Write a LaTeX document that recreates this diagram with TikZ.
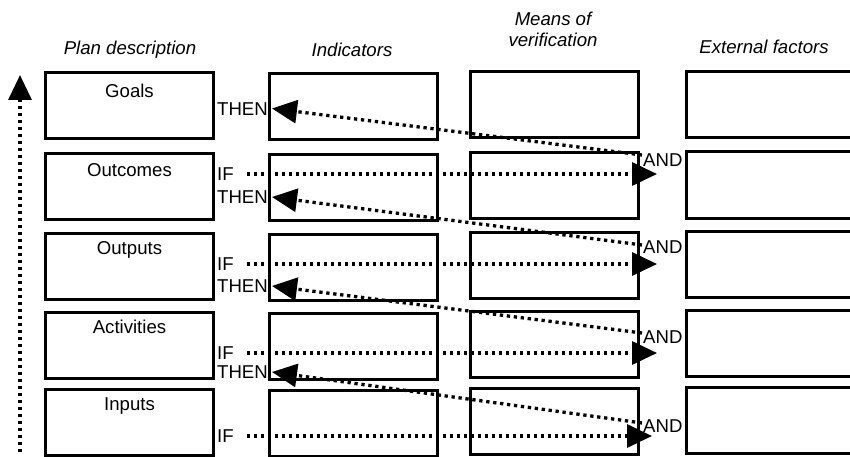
\documentclass[tikz,border=0pt]{standalone}
\usepackage{fontspec}
\setmainfont{Liberation Sans}
\usetikzlibrary{arrows.meta}
\begin{document}
\begin{tikzpicture}[x=1pt,y=-1pt,
  box/.style={draw,line width=3pt,minimum width=168pt,minimum height=66pt,inner sep=0pt},
  lbl/.style={font=\fontsize{18.6}{21}\selectfont,inner sep=0pt},
  hdr/.style={font=\fontsize{18.6}{21}\selectfont\itshape,inner sep=0pt,align=center},
  conn/.style={line width=3.3pt,dash pattern=on 3.3pt off 3.7pt,-{Triangle[length=25pt,width=23pt]}}]
\useasboundingbox (0,0) rectangle (850,457);
% headers
\node[hdr] (h1) at (130,50) {Plan description};
\node[hdr] (h2) at (352,50) {Indicators};
\node[hdr] (h3) at (553,29) {Means of\\verification};
\node[hdr] (h4) at (764,47) {External factors};
% boxes
\foreach \r/\y in {1/106,2/186.5,3/266,4/345,5/422}{
  \node[box] (a\r) at (129.5,\y) {};
  \node[box] (b\r) at (353,\y+1) {};
  \node[box] (c\r) at (554.5,\y-1) {};
  \node[box] (d\r) at (770,\y-1.5) {};
}
% box texts
\node[lbl] (t1) at (129.5,91) {Goals};
\node[lbl] (t2) at (129.5,170) {Outcomes};
\node[lbl] (t3) at (129.5,250) {Outputs};
\node[lbl] (t4) at (129.5,327) {Activities};
\node[lbl] (t5) at (129.5,406) {Inputs};
% IF / AND labels
\foreach \k/\yi/\ya in {1/174/160,2/264/247,3/353/337,4/436/426}{
  \node[lbl,anchor=west] (if\k) at (217,\yi) {IF};
  \node[lbl,anchor=west] (and\k) at (643,\ya) {AND};
}
% THEN labels
\node[lbl,anchor=west] (then0) at (217,109) {THEN};
\node[lbl,anchor=west] (then1) at (217,197) {THEN};
\node[lbl,anchor=west] (then2) at (217,286) {THEN};
\node[lbl,anchor=west] (then3) at (217,372) {THEN};
% coordinates
\coordinate (s1) at (247,174); \coordinate (e1) at (657,174);
\coordinate (s2) at (247,264); \coordinate (e2) at (657,264);
\coordinate (s3) at (247,353); \coordinate (e3) at (657,353);
\coordinate (s4) at (247,436); \coordinate (e4) at (652,436);
\coordinate (g0) at (642,155); \coordinate (p0) at (272,108.5);
\coordinate (g1) at (642,245); \coordinate (p1) at (272,197);
\coordinate (g2) at (642,333); \coordinate (p2) at (272,286);
\coordinate (g3) at (642,423); \coordinate (p3) at (272,372);
\coordinate (vb) at (20,452); \coordinate (vt) at (20,75);
% connectors
\foreach \k in {1,2,3,4}{ \draw[conn] (s\k) -- (e\k); }
\foreach \k in {0,1,2,3}{ \draw[conn] (g\k) -- (p\k); }
\draw[conn] (vb) -- (vt);
\end{tikzpicture}
\end{document}
